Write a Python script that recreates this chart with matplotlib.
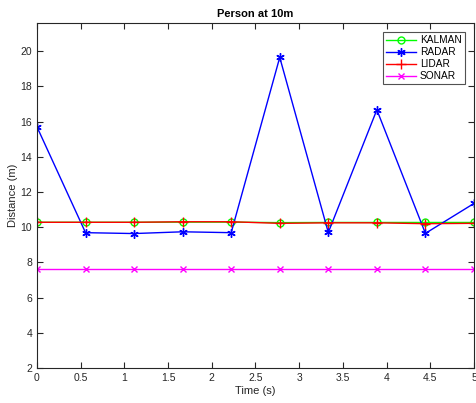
import numpy as np
import matplotlib
matplotlib.use("Agg")
import matplotlib.pyplot as plt

plt.rcParams['font.family'] = ['Liberation Sans', 'DejaVu Sans']

time_s = np.linspace(0, 5, 10)
kalman = [10.28, 10.28, 10.28, 10.29, 10.29, 10.26, 10.27, 10.27, 10.27, 10.27]
radar = [15.7, 9.69, 9.64, 9.74, 9.69, 19.65, 9.7, 16.67, 9.65, 11.35]
lidar = [10.28, 10.28, 10.28, 10.31, 10.31, 10.22, 10.25, 10.25, 10.20, 10.22]
sonar = [7.65, 7.65, 7.65, 7.65, 7.65, 7.65, 7.65, 7.65, 7.65, 7.65]

fig = plt.figure(figsize=(4.76, 4.03), dpi=100)
ax = fig.add_axes([0.0777, 0.0868, 0.918, 0.856])

ax.plot(time_s, kalman, color='#00ff00', marker='o', mfc='none', ms=5, lw=1, label='KALMAN')
ax.plot(time_s, radar, color='#0000ff', marker=(6, 2, 0), ms=6, mew=1, lw=1, label='RADAR')
ax.plot(time_s, lidar, color='#ff0000', marker='+', ms=7, lw=1, label='LIDAR')
ax.plot(time_s, sonar, color='#ff00ff', marker='x', ms=4, lw=1, label='SONAR')

ax.set_xlim(0, 5)
ax.set_ylim(2, 21.6)
ax.set_xticks(np.arange(0, 5.01, 0.5))
ax.set_xticklabels(['0', '0.5', '1', '1.5', '2', '2.5', '3', '3.5', '4', '4.5', '5'])
ax.set_yticks(np.arange(2, 21, 2))
ax.tick_params(direction='in', top=True, right=True, labelsize=7.5, colors='#262626', length=4, width=0.8)
for s in ax.spines.values():
    s.set_color('#262626')
    s.set_linewidth(0.8)

ax.set_title('Person at 10m', fontsize=8, fontweight='bold', pad=4)
ax.set_xlabel('Time (s)', fontsize=8, color='#262626', labelpad=2)
ax.set_ylabel('Distance (m)', fontsize=8, color='#262626', labelpad=2)

leg = ax.legend(loc='upper right', fontsize=7.3, frameon=True, fancybox=False, edgecolor='#262626',
                handlelength=3.0, borderpad=0.3, labelspacing=0.2, handletextpad=0.4,
                borderaxespad=0.9)
leg.get_frame().set_linewidth(0.8)

fig.savefig('out.png', dpi=100)
